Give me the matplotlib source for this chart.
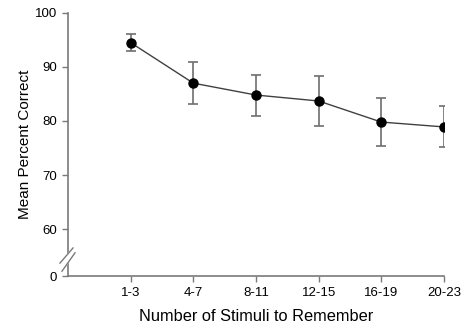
import matplotlib.pyplot as plt

plt.rcParams['font.family'] = ['Liberation Sans', 'DejaVu Sans']

groups = ['1-3', '4-7', '8-11', '12-15', '16-19', '20-23']
mean_correct = [94.5, 87.0, 84.8, 83.7, 79.8, 78.9]
err = [1.6, 3.9, 3.8, 4.6, 4.5, 3.8]

# the gap between 0 and 60 is squeezed: 0 sits this far below 60 on the axis
zero_pos = 51.3
yticks = [0, 60, 70, 80, 90, 100]

fig = plt.figure(figsize=(4.61, 3.31), dpi=100)
ax = fig.add_axes([0.1475, 0.166, 0.8155, 0.795])

x = list(range(1, len(groups) + 1))
ax.errorbar(x, mean_correct, yerr=err, fmt='-o', color='#404040', lw=1.0,
            ecolor='#6e6e6e', elinewidth=1.2, capsize=3.5, capthick=1.2,
            mfc='black', mec='black', ms=6.5, zorder=3)

ax.set_xlim(0, 6)
ax.set_ylim(zero_pos, 100)
ax.set_xticks(x)
ax.set_xticklabels(groups)
ax.set_yticks([zero_pos if v == 0 else v for v in yticks])
ax.set_yticklabels([str(v) for v in yticks])

for s in ['top', 'right']:
    ax.spines[s].set_visible(False)
for s in ['left', 'bottom']:
    ax.spines[s].set_color('#7a7a7a')
    ax.spines[s].set_linewidth(1.2)
ax.tick_params(colors='#7a7a7a', labelcolor='black', labelsize=9.5, length=4.5, width=1.0)

ax.set_ylabel('Mean Percent Correct', fontsize=11, labelpad=2)
ax.set_xlabel('Number of Stimuli to Remember', fontsize=11.8, labelpad=7)

# axis break: two parallel slashes with a white gap between them
s1x, s1y = [-0.128, 0.080], [53.7, 56.5]
s2x, s2y = [-0.096, 0.112], [52.2, 55.6]
ax.fill([s1x[0], s1x[1], s2x[1], s2x[0]], [s1y[0], s1y[1], s2y[1], s2y[0]],
        color='white', clip_on=False, zorder=4)
ax.plot(s1x, s1y, color='#7a7a7a', lw=1.0, clip_on=False, zorder=5)
ax.plot(s2x, s2y, color='#7a7a7a', lw=1.0, clip_on=False, zorder=5)

plt.savefig('out.png', dpi=100)
